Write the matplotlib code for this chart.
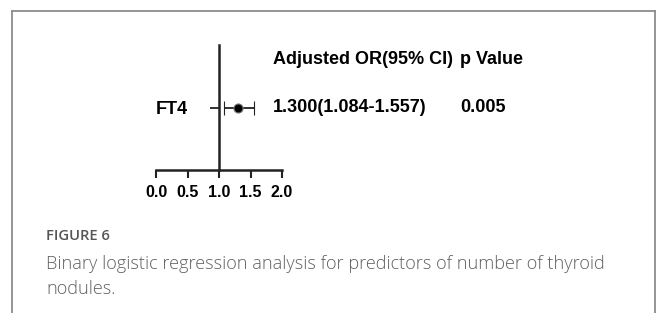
import matplotlib
matplotlib.use('Agg')
import matplotlib.pyplot as plt
from matplotlib.lines import Line2D

plt.rcParams['font.family'] = ['Liberation Sans', 'DejaVu Sans']

# data
variables = ['FT4']
odds_ratio = [1.300]
ci_low = [1.084]
ci_high = [1.557]
p_values = ['0.005']
or_labels = ['1.300(1.084-1.557)']
x_ticks = [0.0, 0.5, 1.0, 1.5, 2.0]

W, H = 658, 313
fig = plt.figure(figsize=(W / 100, H / 100), dpi=100)

def fx(px):
    return px / W

def fy(py):
    return 1 - py / H

# forest plot axes: x from pixel 156 to 282, y from 45 to 170
ax = fig.add_axes([fx(156), fy(170), fx(282) - fx(156), fy(45) - fy(170)])
row_px, head_px = 108, 60
unit = row_px - head_px
ax.set_ylim(-(170 - row_px) / unit, (row_px - 45) / unit)
ax.set_xlim(0, 2)

ys = list(range(len(variables)))
err = [[o - l for o, l in zip(odds_ratio, ci_low)],
       [h - o for o, h in zip(odds_ratio, ci_high)]]
ax.errorbar(odds_ratio, ys, xerr=err, fmt='o', color='black', ecolor='#222222',
            elinewidth=1.3, capsize=5, capthick=1.3, markersize=6.5,
            markeredgecolor='#777777', markeredgewidth=0.8)

for s in ['top', 'right']:
    ax.spines[s].set_visible(False)
ax.spines['left'].set_position(('data', 1))
ax.spines['left'].set_linewidth(1.8)
ax.spines['left'].set_color('#222222')
ax.spines['bottom'].set_linewidth(1.8)
ax.spines['bottom'].set_color('#222222')

ax.set_xticks(x_ticks)
ax.set_xticklabels([f'{t:.1f}' for t in x_ticks], fontsize=11.5, fontweight='bold')
ax.tick_params(axis='x', length=6, width=1.5, pad=5, color='#222222')
ax.set_yticks(ys)
ax.set_yticklabels(variables, fontsize=13, fontweight='bold')
ax.tick_params(axis='y', length=6.5, width=1.3, pad=16, color='#222222')

# table columns (in data x units)
col_or = (273 - 156) / 63
col_p = (460 - 156) / 63
ax.text(col_or, 1, 'Adjusted OR(95% CI)', fontsize=13, fontweight='bold',
        va='center', ha='left', clip_on=False)
ax.text(col_p, 1, 'p Value', fontsize=13, fontweight='bold',
        va='center', ha='left', clip_on=False)
for y, lab, p in zip(ys, or_labels, p_values):
    ax.text(col_or, y, lab, fontsize=13, fontweight='bold', va='center', ha='left', clip_on=False)
    ax.text(col_p, y, p, fontsize=13, fontweight='bold', va='center', ha='left', clip_on=False)

# frame around figure panel
box_col = '#8c8c8c'
fig.add_artist(Line2D([fx(12), fx(655)], [fy(11), fy(11)], color=box_col, lw=1.3))
fig.add_artist(Line2D([fx(12), fx(12)], [fy(11), 0], color=box_col, lw=1.3))
fig.add_artist(Line2D([fx(655), fx(655)], [fy(11), 0], color=box_col, lw=1.3))

# caption
fig.text(fx(46), fy(236), 'FIGURE 6', fontsize=10.6, color='#555555',
         family='Open Sans', fontweight='semibold', va='center')
fig.text(fx(46), fy(264), 'Binary logistic regression analysis for predictors of number of thyroid',
         fontsize=13.1, color='#606060', family='Open Sans', fontweight='light', va='center')
fig.text(fx(46), fy(289), 'nodules.', fontsize=13.1, color='#606060',
         family='Open Sans', fontweight='light', va='center')

fig.savefig('out.png', dpi=100)
